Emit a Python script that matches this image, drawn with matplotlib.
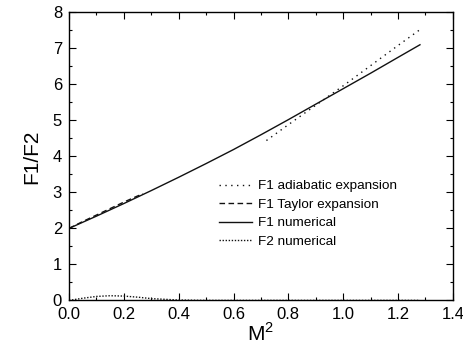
import numpy as np
import matplotlib.pyplot as plt
from matplotlib.ticker import MultipleLocator

plt.rcParams['font.family'] = ['Liberation Sans', 'DejaVu Sans']

# F1 numerical (solid)
m2_num = [0.0, 0.1, 0.2, 0.3, 0.4, 0.5, 0.6, 0.7, 0.8, 0.9, 1.0, 1.1, 1.2, 1.28]
f1_num = [2.0, 2.34, 2.69, 3.05, 3.42, 3.80, 4.19, 4.60, 5.02, 5.45, 5.88, 6.31, 6.75, 7.10]

# F1 Taylor expansion (dashed)
m2_taylor = [0.0, 0.05, 0.1, 0.15, 0.2, 0.25, 0.27]
f1_taylor = [2.0, 2.19, 2.37, 2.55, 2.73, 2.90, 2.96]

# F1 adiabatic expansion (dotted)
m2_adiab = [0.72, 0.8, 0.9, 1.0, 1.1, 1.2, 1.28]
f1_adiab = [4.44, 4.88, 5.42, 5.96, 6.52, 7.08, 7.52]

# F2 numerical (dense dotted)
m2_f2 = [0.0, 0.05, 0.1, 0.15, 0.2, 0.25, 0.3, 0.35, 0.4, 0.5, 0.7, 0.9, 1.1, 1.28]
f2_num = [0.0, 0.06, 0.11, 0.13, 0.12, 0.09, 0.05, 0.03, 0.01, 0.0, 0.0, 0.0, 0.0, 0.0]

fig = plt.figure(figsize=(4.64, 3.53), dpi=100)
ax = fig.add_axes([0.1487, 0.149, 0.8273, 0.816])

c = '#111111'
ax.plot(m2_adiab, f1_adiab, color=c, lw=1.0, ls=(0, (1, 3.2)), label='F1 adiabatic expansion')
ax.plot(m2_taylor, f1_taylor, color=c, lw=1.0, ls=(0, (4, 2.5)), label='F1 Taylor expansion')
ax.plot(m2_num, f1_num, color=c, lw=1.0, ls='-', label='F1 numerical')
ax.plot(m2_f2, f2_num, color=c, lw=1.0, ls=(0, (1, 1.2)), label='F2 numerical')

ax.set_xlim(0, 1.4)
ax.set_ylim(0, 8)
ax.xaxis.set_major_locator(MultipleLocator(0.2))
ax.xaxis.set_minor_locator(MultipleLocator(0.1))
ax.yaxis.set_major_locator(MultipleLocator(1))
ax.yaxis.set_minor_locator(MultipleLocator(0.5))
ax.xaxis.set_major_formatter(plt.FormatStrFormatter('%.1f'))
ax.tick_params(which='both', direction='in', top=True, right=True, labelsize=12, pad=5, width=0.8)
ax.tick_params(which='major', length=5)
ax.tick_params(which='minor', length=2.5)
for s in ax.spines.values():
    s.set_linewidth(1.0)

ax.set_xlabel(r'M$^\mathregular{2}$', fontsize=15, labelpad=0)
ax.set_ylabel('F1/F2', fontsize=15, labelpad=8)

ax.legend(loc='upper left', bbox_to_anchor=(0.358, 0.46), frameon=False, fontsize=9.7,
          handlelength=2.5, handletextpad=0.4, labelspacing=0.45)

fig.savefig('out.png', dpi=100)
